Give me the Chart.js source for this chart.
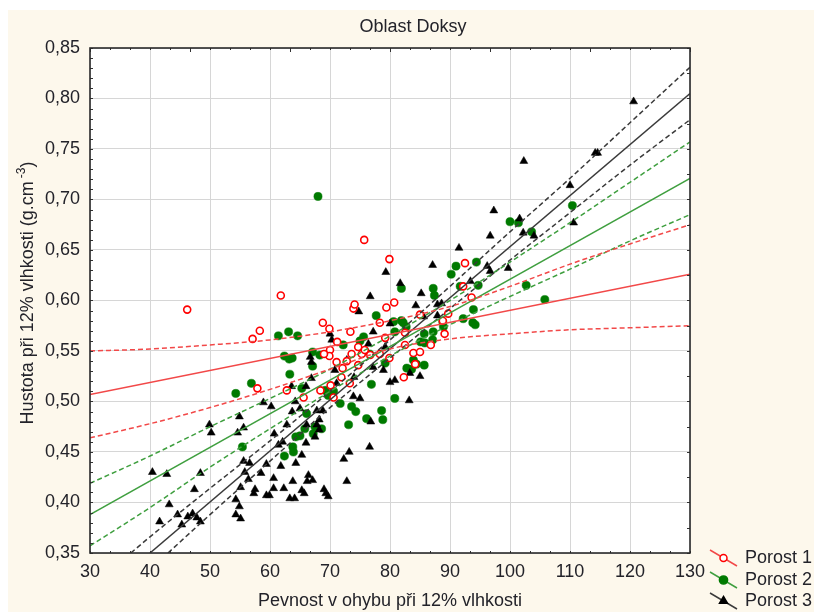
<!DOCTYPE html>
<html>
<head>
<meta charset="utf-8">
<title>Oblast Doksy</title>
<script src="https://cdn.jsdelivr.net/npm/chart.js@4.4.0/dist/chart.umd.min.js"></script>
<style>
  html, body { margin: 0; padding: 0; background: #fff; }
  canvas { display: block; }
</style>
</head>
<body>
<canvas id="chart" width="814" height="612"></canvas>
<script>
// Porost 1 (red open circles)
const porost1X = [46.2, 57.1, 58.3, 57.9, 61.8, 62.8, 65.6, 68.4, 68.8, 69.9, 70.0, 69.9, 69.0, 70.1,
  70.6, 71.2, 71.1, 72.1, 71.9, 72.8, 73.3, 73.6, 73.4, 73.9, 74.1, 74.7, 74.7, 75.3, 75.7, 75.8,
  76.7, 78.3, 78.3, 79.4, 79.9, 79.2, 79.9, 80.7, 82.3, 82.5, 82.5, 83.9, 84.2, 85.0, 85.0, 86.8,
  88.8, 89.1, 89.7, 92.2, 92.5, 93.6];
const porost1Y = [0.591, 0.562, 0.570, 0.513, 0.605, 0.511, 0.504, 0.511, 0.578, 0.572, 0.551, 0.545, 0.547, 0.516,
  0.504, 0.559, 0.539, 0.533, 0.524, 0.540, 0.518, 0.547, 0.569, 0.592, 0.596, 0.554, 0.536, 0.547, 0.660, 0.551,
  0.546, 0.578, 0.547, 0.593, 0.641, 0.563, 0.543, 0.598, 0.524, 0.556, 0.568, 0.548, 0.537, 0.549, 0.586, 0.556,
  0.580, 0.567, 0.587, 0.614, 0.637, 0.603];

// Porost 2 (green dots)
const porost2X = [54.3, 55.4, 56.9, 61.4, 63.1, 64.6, 62.4, 63.2, 63.7, 63.3, 65.3, 62.4, 63.8, 63.9,
  64.3, 65.0, 65.8, 66.1, 67.1, 67.1, 67.5, 67.2, 68.0, 68.3, 68.6, 69.2, 69.7, 70.6, 71.7, 72.2,
  73.1, 73.6, 74.3, 75.0, 75.6, 76.1, 76.6, 76.9, 77.7, 78.6, 78.8, 79.2, 80.6, 80.8, 80.8, 81.9,
  81.9, 82.2, 82.7, 82.8, 83.6, 83.9, 84.4, 85.1, 85.7, 85.7, 85.8, 87.1, 87.2, 87.2, 87.4, 88.8,
  88.9, 90.2, 91.0, 91.7, 92.2, 93.8, 93.9, 94.2, 94.4, 94.7, 100.0, 101.4, 102.7, 103.6, 105.8, 110.4];
const porost2Y = [0.508, 0.455, 0.518, 0.565, 0.569, 0.565, 0.545, 0.542, 0.543, 0.527, 0.513, 0.446, 0.455, 0.450,
  0.465, 0.466, 0.473, 0.488, 0.535, 0.549, 0.475, 0.468, 0.703, 0.546, 0.473, 0.511, 0.506, 0.510, 0.498, 0.556,
  0.477, 0.495, 0.490, 0.560, 0.564, 0.483, 0.547, 0.517, 0.585, 0.491, 0.482, 0.538, 0.579, 0.503, 0.569, 0.580,
  0.612, 0.578, 0.574, 0.533, 0.532, 0.541, 0.537, 0.559, 0.536, 0.567, 0.558, 0.561, 0.569, 0.612, 0.605, 0.579,
  0.574, 0.626, 0.634, 0.614, 0.582, 0.578, 0.591, 0.576, 0.638, 0.615, 0.678, 0.677, 0.615, 0.668, 0.601, 0.694];

// Porost 3 (black triangles)
const porost3X = [40.4, 42.8, 41.6, 43.2, 44.6, 45.3, 46.3, 47.1, 47.4, 48.4, 47.8, 48.4, 49.9, 50.2,
  54.9, 54.6, 55.6, 54.3, 54.9, 54.3, 55.1, 55.1, 55.6, 55.8, 56.4, 56.6, 57.5, 57.3, 58.5, 58.9,
  60.2, 59.4, 59.4, 59.9, 60.6, 60.6, 60.7, 61.4, 61.8, 62.1, 62.3, 62.8, 63.3, 63.8, 63.6, 63.7,
  64.1, 64.2, 64.3, 65.0, 65.3, 65.3, 65.7, 66.0, 66.1, 66.0, 66.4, 66.2, 66.7, 66.9, 67.1, 66.9,
  67.5, 67.8, 67.8, 68.2, 68.8, 69.0, 69.3, 69.7, 68.2, 70.0, 70.3, 70.8, 71.1, 72.3, 72.8, 73.2,
  72.8, 73.9, 74.0, 75.0, 74.8, 76.6, 76.8, 77.2, 76.4, 77.2, 76.7, 78.9, 79.2, 79.3, 80.0, 80.0,
  80.8, 81.7, 83.2, 83.3, 84.3, 85.0, 85.2, 85.6, 87.1, 87.9, 87.9, 88.6, 91.5, 93.4, 96.2, 96.7,
  96.7, 97.3, 99.7, 101.6, 102.2, 102.3, 104.0, 110.0, 110.6, 114.2, 114.6, 120.6];
const porost3Y = [0.430, 0.428, 0.381, 0.398, 0.388, 0.378, 0.386, 0.389, 0.413, 0.429, 0.385, 0.381, 0.477, 0.469,
  0.485, 0.469, 0.474, 0.403, 0.396, 0.388, 0.384, 0.415, 0.441, 0.430, 0.423, 0.439, 0.413, 0.409, 0.429, 0.499,
  0.495, 0.438, 0.407, 0.407, 0.424, 0.414, 0.468, 0.457, 0.436, 0.460, 0.414, 0.477, 0.404, 0.421, 0.515, 0.490,
  0.404, 0.500, 0.439, 0.493, 0.447, 0.412, 0.409, 0.459, 0.477, 0.515, 0.427, 0.421, 0.544, 0.539, 0.422, 0.523,
  0.465, 0.477, 0.491, 0.482, 0.491, 0.413, 0.409, 0.406, 0.472, 0.567, 0.561, 0.531, 0.518, 0.443, 0.421, 0.450,
  0.541, 0.505, 0.524, 0.503, 0.589, 0.455, 0.480, 0.534, 0.557, 0.569, 0.604, 0.531, 0.554, 0.628, 0.577, 0.519,
  0.521, 0.617, 0.501, 0.528, 0.595, 0.525, 0.607, 0.584, 0.635, 0.585, 0.596, 0.597, 0.652, 0.619, 0.634, 0.664,
  0.629, 0.689, 0.632, 0.681, 0.667, 0.738, 0.664, 0.714, 0.677, 0.746, 0.746, 0.797];

// regression lines and their confidence bands
const bandX = [30, 40, 50, 60, 70, 80, 90, 100, 110, 120, 130];

const fit1X = [30, 130];
const fit1Y = [0.507, 0.626];
const band1Upper = [0.550, 0.552, 0.556, 0.561, 0.569, 0.580, 0.594, 0.614, 0.636, 0.656, 0.675];
const band1Lower = [0.464, 0.478, 0.494, 0.512, 0.532, 0.552, 0.562, 0.567, 0.571, 0.573, 0.575];

const fit2X = [30, 130];
const fit2Y = [0.388, 0.721];
const band2Upper = [0.419, 0.446, 0.475, 0.503, 0.532, 0.565, 0.600, 0.638, 0.677, 0.717, 0.757];
const band2Lower = [0.357, 0.395, 0.435, 0.473, 0.510, 0.545, 0.576, 0.604, 0.631, 0.659, 0.685];

const fit3X = [40, 130];
const fit3Y = [0.35, 0.805];
const band3UpperX = [36.8, 40, 50, 60, 70, 80, 90, 100, 110, 120, 130];
const band3Upper = [0.35, 0.366, 0.414, 0.461, 0.510, 0.561, 0.614, 0.668, 0.721, 0.776, 0.831];
const band3LowerX = [43, 50, 60, 70, 80, 90, 100, 110, 120, 130];
const band3Lower = [0.35, 0.388, 0.441, 0.494, 0.543, 0.592, 0.640, 0.687, 0.734, 0.779];

const xTicks = [30, 40, 50, 60, 70, 80, 90, 100, 110, 120, 130];
const yTicks = [0.35, 0.40, 0.45, 0.50, 0.55, 0.60, 0.65, 0.70, 0.75, 0.80, 0.85];

const seriesNames = ['Porost 1', 'Porost 2', 'Porost 3'];

const FONT = '"Liberation Sans", Arial, sans-serif';
const TEXT = '#23232a';
const RED = '#ff0000', RED_LINE = '#f24848';
const GREEN = '#007a00', GREEN_LINE = '#3f9f3f';
const BLACK = '#000000', BLACK_LINE = '#3a3a3a';

function toPoints(xs, ys) {
  return xs.map((x, i) => ({ x: x, y: ys[i] }));
}

function lineSet(xs, ys, color, dashed) {
  return {
    data: toPoints(xs, ys),
    showLine: true,
    pointRadius: 0,
    borderColor: color,
    borderWidth: 1.5,
    borderDash: dashed ? [5, 3] : [],
    cubicInterpolationMode: 'monotone',
    fill: false,
    order: 0
  };
}

const markers = [
  { style: 'circle', radius: 3.5, fill: '#ffffff', stroke: RED, width: 1.6 },
  { style: 'circle', radius: 4.1, fill: GREEN, stroke: GREEN, width: 0.5 },
  { style: 'triangle', radius: 4.6, fill: BLACK, stroke: BLACK, width: 0.5 }
];
const lineColors = [RED_LINE, GREEN_LINE, BLACK_LINE];

function pointSet(xs, ys, m, order) {
  return {
    data: toPoints(xs, ys),
    showLine: false,
    pointStyle: m.style,
    pointRadius: m.radius,
    pointBackgroundColor: m.fill,
    pointBorderColor: m.stroke,
    pointBorderWidth: m.width,
    order: order
  };
}

// frame, minor ticks, titles and legend
const decorations = {
  id: 'decorations',
  beforeDraw(chart) {
    const { ctx, chartArea: a } = chart;
    ctx.save();
    ctx.fillStyle = '#ffffff';
    ctx.fillRect(0, 0, chart.width, chart.height);
    ctx.fillStyle = '#fdf8ec';
    ctx.fillRect(8, 10, chart.width - 8, chart.height - 10);
    ctx.fillStyle = '#ffffff';
    ctx.fillRect(a.left, a.top, a.right - a.left, a.bottom - a.top);
    ctx.restore();
  },
  afterDatasetsDraw(chart) {
    const { ctx, chartArea: a, scales } = chart;
    const xs = scales.x, ys = scales.y;
    ctx.save();
    ctx.strokeStyle = '#333333';
    ctx.lineWidth = 1;
    ctx.beginPath();
    for (let v = 0.35; v <= 0.8501; v += 0.01) {
      const y = Math.round(ys.getPixelForValue(v)) + 0.5;
      ctx.moveTo(a.left, y);
      ctx.lineTo(a.left + 3, y);
    }
    for (let v = 0.35; v <= 0.8501; v += 0.025) {
      const y = Math.round(ys.getPixelForValue(v)) + 0.5;
      ctx.moveTo(a.right, y);
      ctx.lineTo(a.right - 3, y);
    }
    for (let k = 0; k <= 30; k++) {
      const x = Math.round(xs.getPixelForValue(30 + k * 10 / 3)) + 0.5;
      const len = k % 5 === 0 ? 4 : 2;
      ctx.moveTo(x, a.top);
      ctx.lineTo(x, a.top + len);
      ctx.moveTo(x, a.bottom);
      ctx.lineTo(x, a.bottom - 2);
    }
    ctx.stroke();
    ctx.lineWidth = 1.6;
    ctx.strokeStyle = '#2a2a2a';
    ctx.strokeRect(a.left, a.top, a.right - a.left, a.bottom - a.top);
    ctx.restore();
  },
  afterDraw(chart) {
    const { ctx, chartArea: a } = chart;
    ctx.save();
    ctx.fillStyle = TEXT;
    ctx.textBaseline = 'middle';
    ctx.textAlign = 'center';
    ctx.font = '18px ' + FONT;
    ctx.fillText('Oblast Doksy', 413, 27);
    ctx.fillText('Pevnost v ohybu při 12% vlhkosti', (a.left + a.right) / 2, 601);

    // y axis title with superscript unit
    const main = 'Hustota při 12% vlhkosti (g.cm';
    const sup = '-3';
    const tail = ')';
    ctx.font = '18px ' + FONT;
    const wMain = ctx.measureText(main).width;
    const wTail = ctx.measureText(tail).width;
    ctx.font = '12px ' + FONT;
    const wSup = ctx.measureText(sup).width;
    const total = wMain + 3 + wSup + wTail;
    ctx.translate(28, 293);
    ctx.rotate(-Math.PI / 2);
    ctx.textAlign = 'left';
    const x0 = -total / 2;
    ctx.font = '18px ' + FONT;
    ctx.fillText(main, x0, 0);
    ctx.font = '12px ' + FONT;
    ctx.fillText(sup, x0 + wMain + 3, -6);
    ctx.font = '18px ' + FONT;
    ctx.fillText(tail, x0 + wMain + 3 + wSup, 0);
    ctx.restore();

    // legend
    ctx.save();
    const rows = [558, 580, 601];
    rows.forEach((cy, i) => {
      ctx.strokeStyle = lineColors[i];
      ctx.lineWidth = 1.5;
      ctx.beginPath();
      ctx.moveTo(710, cy - 8);
      ctx.lineTo(737, cy + 8);
      ctx.stroke();
      const m = markers[i];
      ctx.fillStyle = m.fill;
      ctx.strokeStyle = m.stroke;
      Chart.helpers.drawPoint(ctx, { pointStyle: m.style, radius: m.radius, borderWidth: m.width, rotation: 0 }, 723.5, cy);
      ctx.fillStyle = TEXT;
      ctx.font = '18px ' + FONT;
      ctx.textAlign = 'left';
      ctx.textBaseline = 'middle';
      ctx.fillText(seriesNames[i], 745, cy);
    });
    ctx.restore();
  }
};

const ctx = document.getElementById('chart').getContext('2d');
new Chart(ctx, {
  type: 'scatter',
  data: {
    datasets: [
      lineSet(bandX, band1Upper, RED_LINE, true),
      lineSet(bandX, band1Lower, RED_LINE, true),
      lineSet(fit1X, fit1Y, RED_LINE, false),
      lineSet(bandX, band2Upper, GREEN_LINE, true),
      lineSet(bandX, band2Lower, GREEN_LINE, true),
      lineSet(fit2X, fit2Y, GREEN_LINE, false),
      lineSet(band3UpperX, band3Upper, BLACK_LINE, true),
      lineSet(band3LowerX, band3Lower, BLACK_LINE, true),
      lineSet(fit3X, fit3Y, BLACK_LINE, false),
      pointSet(porost1X, porost1Y, markers[0], 1),
      pointSet(porost3X, porost3Y, markers[2], 2),
      pointSet(porost2X, porost2Y, markers[1], 3)
    ]
  },
  options: {
    responsive: false,
    devicePixelRatio: 1,
    animation: false,
    layout: { padding: { left: 0, top: 48, right: 124, bottom: 0 } },
    plugins: {
      legend: { display: false },
      tooltip: { enabled: false }
    },
    scales: {
      x: {
        type: 'linear',
        min: 30,
        max: 130,
        afterBuildTicks: (scale) => { scale.ticks = xTicks.map((v) => ({ value: v })); },
        afterFit: (scale) => { scale.height = 59; },
        grid: { color: '#d6d6d6', lineWidth: 1, drawTicks: false },
        border: { display: false },
        ticks: {
          padding: 8,
          color: TEXT,
          font: { family: FONT, size: 18 },
          maxRotation: 0,
          callback: (v) => String(v)
        }
      },
      y: {
        type: 'linear',
        min: 0.35,
        max: 0.85,
        afterBuildTicks: (scale) => { scale.ticks = yTicks.map((v) => ({ value: v })); },
        afterFit: (scale) => { scale.width = 90; },
        grid: { color: '#d6d6d6', lineWidth: 1, drawTicks: false },
        border: { display: false },
        ticks: {
          padding: 10,
          color: TEXT,
          font: { family: FONT, size: 18 },
          callback: (v) => v.toFixed(2).replace('.', ',')
        }
      }
    }
  },
  plugins: [decorations]
});
</script>
</body>
</html>
